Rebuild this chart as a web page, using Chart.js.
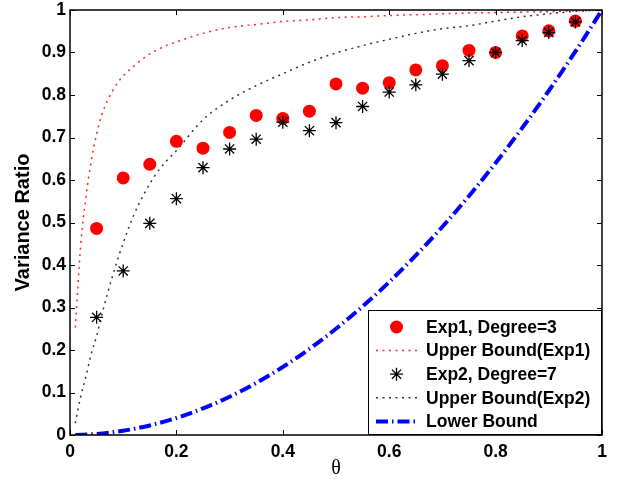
<!DOCTYPE html>
<html>
<head>
<meta charset="utf-8">
<script src="https://cdn.jsdelivr.net/npm/chart.js@4"></script>
<style>
  body { margin: 0; background: #fff; }
  canvas { display: block; }
</style>
</head>
<body>
<canvas id="ratio" width="618" height="481"></canvas>
<script>
// measured points
const theta = [0.05, 0.1, 0.15, 0.2, 0.25, 0.3, 0.35, 0.4, 0.45, 0.5, 0.55, 0.6, 0.65, 0.7, 0.75, 0.8, 0.85, 0.9, 0.95];
const exp1Ratio = [0.486, 0.605, 0.637, 0.691, 0.675, 0.712, 0.752, 0.745, 0.762, 0.826, 0.816, 0.829, 0.859, 0.869, 0.905, 0.900, 0.939, 0.951, 0.974];
const exp2Ratio = [0.277, 0.386, 0.498, 0.556, 0.629, 0.673, 0.696, 0.736, 0.716, 0.735, 0.773, 0.807, 0.824, 0.849, 0.881, 0.900, 0.928, 0.947, 0.972];

// bound curves
const boundTheta = [0.01, 0.02, 0.03, 0.04, 0.05, 0.06, 0.08, 0.1, 0.12, 0.14, 0.16, 0.18, 0.2, 0.25, 0.3, 0.35, 0.4, 0.45, 0.5, 0.55, 0.6, 0.65, 0.7, 0.75, 0.8, 0.85, 0.9, 0.95, 1.0];
const upperExp1 = [0.253, 0.445, 0.560, 0.645, 0.708, 0.754, 0.810, 0.845, 0.868, 0.888, 0.904, 0.916, 0.925, 0.945, 0.959, 0.966, 0.973, 0.977, 0.982, 0.984, 0.987, 0.989, 0.991, 0.993, 0.994, 0.995, 0.996, 0.998, 0.999];
const upperExp2 = [0.028, 0.090, 0.138, 0.191, 0.233, 0.284, 0.374, 0.452, 0.518, 0.569, 0.611, 0.643, 0.669, 0.742, 0.788, 0.822, 0.850, 0.877, 0.899, 0.916, 0.931, 0.945, 0.956, 0.963, 0.974, 0.984, 0.991, 0.997, 1.000];
const lowerTheta = [0.01, 0.05, 0.1, 0.15, 0.2, 0.25, 0.3, 0.35, 0.4, 0.45, 0.5, 0.55, 0.6, 0.65, 0.7, 0.75, 0.8, 0.85, 0.9, 0.95, 1.0];
const lowerBound = [0.0001, 0.0025, 0.01, 0.0225, 0.04, 0.0625, 0.09, 0.1225, 0.16, 0.2025, 0.25, 0.3025, 0.36, 0.4225, 0.49, 0.5625, 0.64, 0.7225, 0.81, 0.9025, 1.0];

const labels = ["Exp1, Degree=3", "Upper Bound(Exp1)", "Exp2, Degree=7", "Upper Bound(Exp2)", "Lower Bound"];

const FONT = "'Liberation Sans', Arial, sans-serif";

function pts(xs, ys) {
  return xs.map((x, i) => ({ x: x, y: ys[i] }));
}

// "0", "0.2", ... "1" without trailing zeros
function tickText(v) {
  return String(Number(v.toFixed(1)));
}

// box around the plot with inward ticks on every side, legend in the corner
const frame = {
  id: "frame",
  afterDatasetsDraw(chart) {
    const ctx = chart.ctx;
    const a = chart.chartArea;
    const sx = chart.scales.x, sy = chart.scales.y;
    ctx.save();
    ctx.strokeStyle = "#000";
    ctx.lineWidth = 1;
    sx.ticks.forEach((t) => {
      const px = Math.round(sx.getPixelForValue(t.value)) + 0.5;
      ctx.beginPath();
      ctx.moveTo(px, a.bottom); ctx.lineTo(px, a.bottom - 5);
      ctx.moveTo(px, a.top); ctx.lineTo(px, a.top + 5);
      ctx.stroke();
    });
    sy.ticks.forEach((t) => {
      const py = Math.round(sy.getPixelForValue(t.value)) + 0.5;
      ctx.beginPath();
      ctx.moveTo(a.left, py); ctx.lineTo(a.left + 5, py);
      ctx.moveTo(a.right, py); ctx.lineTo(a.right - 5, py);
      ctx.stroke();
    });
    ctx.lineWidth = 1.5;
    ctx.strokeRect(a.left, a.top, a.right - a.left, a.bottom - a.top);
    ctx.restore();
  },
  afterDraw(chart) {
    const ctx = chart.ctx;
    const a = chart.chartArea;
    const w = 234, h = 125;
    const left = a.right - w, top = a.bottom - h;
    ctx.save();
    ctx.fillStyle = "#fff";
    ctx.fillRect(left, top, w, h);
    ctx.strokeStyle = "#000";
    ctx.lineWidth = 1;
    ctx.strokeRect(left + 0.5, top + 0.5, w - 1, h - 1);

    chart.data.datasets.forEach((ds, i) => {
      const y = top + 17 + i * 23.6;
      const x0 = left + 8, x1 = left + 49;
      if (ds.showLine) {
        ctx.save();
        ctx.strokeStyle = ds.borderColor;
        ctx.lineWidth = ds.borderWidth;
        ctx.setLineDash(ds.borderDash);
        ctx.beginPath();
        ctx.moveTo(x0, y); ctx.lineTo(x1, y);
        ctx.stroke();
        ctx.restore();
      } else {
        ctx.save();
        ctx.fillStyle = ds.pointBackgroundColor;
        ctx.strokeStyle = ds.pointBorderColor;
        ctx.lineWidth = ds.pointBorderWidth;
        Chart.helpers.drawPoint(ctx, {
          pointStyle: ds.pointStyle, radius: ds.pointRadius,
          borderWidth: ds.pointBorderWidth, rotation: 0
        }, (x0 + x1) / 2, y);
        ctx.restore();
      }
      ctx.fillStyle = "#000";
      ctx.font = "bold 17.5px " + FONT;
      ctx.textBaseline = "middle";
      ctx.fillText(labels[i], left + 58, y + 1);
    });
    ctx.restore();
  }
};

new Chart(document.getElementById("ratio"), {
  type: "scatter",
  data: {
    datasets: [
      {
        label: labels[0],
        data: pts(theta, exp1Ratio),
        pointStyle: "circle",
        pointRadius: 6.5,
        pointBackgroundColor: "#ff0000",
        pointBorderColor: "#ff0000",
        pointBorderWidth: 0,
        order: 1
      },
      {
        label: labels[1],
        data: pts(boundTheta, upperExp1),
        showLine: true,
        pointRadius: 0,
        borderColor: "rgba(255,0,0,0.85)",
        borderWidth: 1.5,
        borderDash: [2, 4.5],
        cubicInterpolationMode: "monotone",
        order: 3
      },
      {
        label: labels[2],
        data: pts(theta, exp2Ratio),
        pointStyle: "star",
        pointRadius: 6.5,
        pointBackgroundColor: "#000",
        pointBorderColor: "#000",
        pointBorderWidth: 1.3,
        order: 0
      },
      {
        label: labels[3],
        data: pts(boundTheta, upperExp2),
        showLine: true,
        pointRadius: 0,
        borderColor: "rgba(0,0,0,0.8)",
        borderWidth: 1.5,
        borderDash: [2, 4.5],
        cubicInterpolationMode: "monotone",
        order: 4
      },
      {
        label: labels[4],
        data: pts(lowerTheta, lowerBound),
        showLine: true,
        pointRadius: 0,
        borderColor: "#0000ff",
        borderWidth: 4,
        borderDash: [12, 4, 1.5, 4],
        cubicInterpolationMode: "monotone",
        order: 2
      }
    ]
  },
  options: {
    responsive: false,
    devicePixelRatio: 1,
    animation: false,
    layout: { padding: { left: 6, top: 10, right: 16, bottom: 0 } },
    plugins: { legend: { display: false }, tooltip: { enabled: false } },
    scales: {
      x: {
        type: "linear",
        min: 0,
        max: 1,
        afterFit: (s) => { s.height = 46; },
        ticks: { stepSize: 0.2, padding: 7, color: "#000", callback: tickText, font: { family: FONT, size: 17.5, weight: "bold" } },
        grid: { display: false, drawTicks: false },
        border: { display: false },
        title: { display: true, text: "θ", color: "#000", padding: { top: 0, bottom: 0 }, font: { family: "'Liberation Serif', serif", size: 20 } }
      },
      y: {
        min: 0,
        max: 1,
        afterFit: (s) => { s.width = 64; s.paddingTop = 0; s.paddingBottom = 0; },
        ticks: { stepSize: 0.1, padding: 4, color: "#000", callback: tickText, font: { family: FONT, size: 17.5, weight: "bold" } },
        grid: { display: false, drawTicks: false },
        border: { display: false },
        title: { display: true, text: "Variance Ratio", color: "#000", padding: { top: 5, bottom: 0 }, font: { family: FONT, size: 20, weight: "bold" } }
      }
    }
  },
  plugins: [frame]
});
</script>
</body>
</html>
